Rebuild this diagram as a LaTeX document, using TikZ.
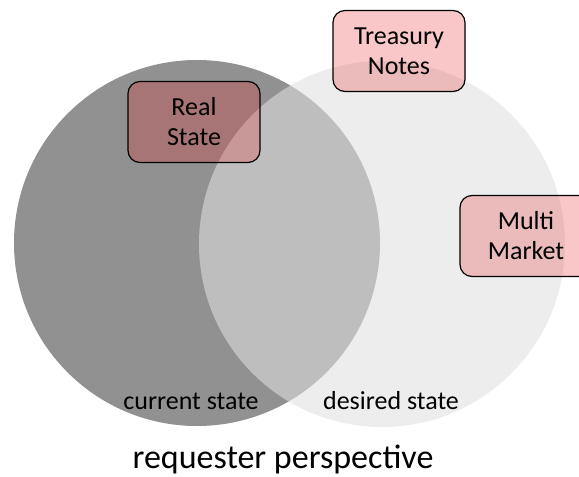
\documentclass[tikz,border=0pt]{standalone}
\usepackage{fontspec}
\setmainfont{Carlito}
\usepackage{tikz}
\definecolor{darkset}{RGB}{145,145,145}
\definecolor{lightset}{RGB}{224,224,224}
\definecolor{boxred}{RGB}{230,40,40}
\tikzset{
every node/.style={inner sep=2pt},
setcircle/.style={circle, draw=none, minimum size=366pt, inner sep=0pt},
asset/.style={rectangle, rounded corners=12pt, draw=black, line width=1.2pt,
  fill=boxred, fill opacity=0.26, text opacity=1, minimum width=132pt,
  minimum height=81pt, align=center, font=\fontsize{26}{30}\selectfont},
setlabel/.style={font=\fontsize{26}{30}\selectfont}
}

\begin{document}
\begin{tikzpicture}[x=1pt,y=-1pt]
\clip (0,0) rectangle (579,477);
\node [setcircle, fill=darkset] (current) at (197,243) {};
\node [setcircle, fill=lightset, fill opacity=0.58] (desired) at (382,244) {};

\node [asset] (RS) at (194,122) {Real\\State};
\node [asset] (TN) at (399,51) {Treasury\\Notes};
\node [asset] (MM) at (526,236) {Multi\\Market};

\node [setlabel] (cur) at (191,401) {current state};
\node [setlabel] (des) at (391,401) {desired state};
\node [font=\fontsize{34}{40}\selectfont] (title) at (283,459) {requester perspective};
\end{tikzpicture}
\end{document}
